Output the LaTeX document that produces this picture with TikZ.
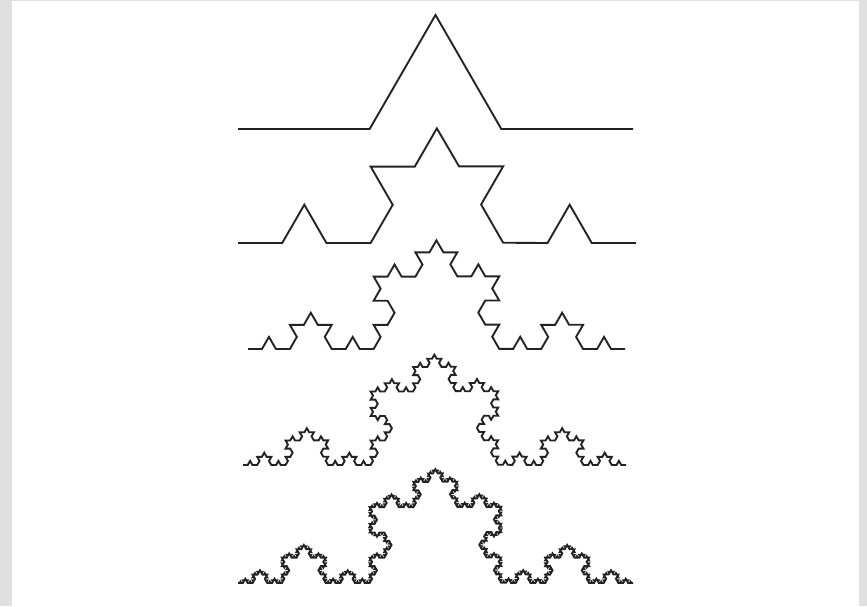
\documentclass[tikz,border=0pt]{standalone}
\usepackage{tikz}
\usetikzlibrary{decorations.fractals,backgrounds}

\begin{document}
\begin{tikzpicture}[x=0.03cm, y=-0.03cm]
  % Colores
  \definecolor{marco}{RGB}{224, 224, 224} % gris del borde
  \definecolor{trazo}{RGB}{35, 35, 35}    % negro del trazo

  \tikzset{koch/.style={draw=trazo, line width=1.6pt, line join=miter,
      decoration={Koch snowflake}}}

  % --- Fondo y marco ---
  \fill[marco] (0,0) rectangle (867,606);
  \fill[white] (12,1) rectangle (859,606);
  \useasboundingbox (0,0) rectangle (867,606);

  % --- Extremos de cada curva (izquierda / derecha) ---
  \coordinate (k1a) at (238,129); \coordinate (k1b) at (633,129); % nivel 1
  \coordinate (k2a) at (238,243); \coordinate (k2b) at (636,243); % nivel 2
  \coordinate (k3a) at (248,349); \coordinate (k3b) at (625,349); % nivel 3
  \coordinate (k4a) at (243,465); \coordinate (k4b) at (626,465); % nivel 4
  \coordinate (k5a) at (238,583); \coordinate (k5b) at (633,583); % nivel 5

  % --- Curvas de Koch, una iteracion mas en cada fila ---
  \path[koch] decorate{ (k1a) -- (k1b) };
  \path[koch] decorate{ decorate{ (k2a) -- (k2b) }};
  \path[koch] decorate{ decorate{ decorate{ (k3a) -- (k3b) }}};
  \path[koch] decorate{ decorate{ decorate{ decorate{ (k4a) -- (k4b) }}}};
  \path[koch] decorate{ decorate{ decorate{ decorate{ decorate{ (k5a) -- (k5b) }}}}};

\end{tikzpicture}
\end{document}
